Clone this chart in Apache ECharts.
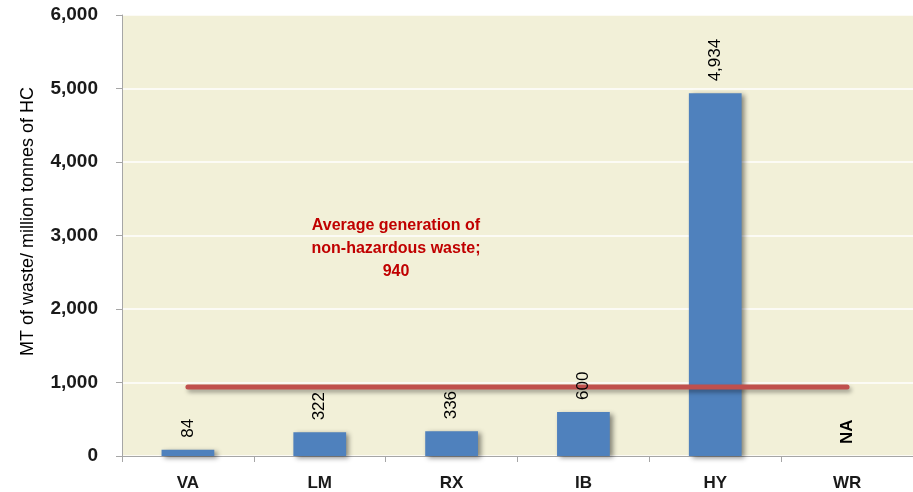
<!DOCTYPE html>
<html>
<head>
<meta charset="utf-8">
<script src="https://cdn.jsdelivr.net/npm/echarts@6/dist/echarts.min.js"></script>
<style>
  html, body { margin: 0; padding: 0; background: #ffffff; }
  #chart { width: 913px; height: 492px; }
</style>
</head>
<body>
<div id="chart"></div>
<script>
// Non-hazardous waste generation per site (MT of waste per million tonnes of HC)
const categories = ['VA', 'LM', 'RX', 'IB', 'HY', 'WR'];
const wasteValues = [84, 322, 336, 600, 4934, null]; // WR: not available
const averageValue = 940;
const yTicks = [0, 1000, 2000, 3000, 4000, 5000, 6000];

const averageLine = categories.map(() => averageValue);
const fmt = v => v.toLocaleString('en-US');

const chart = echarts.init(document.getElementById('chart'), null, { renderer: 'canvas' });

// Visible bars (missing values drawn as empty bars)
const barData = wasteValues.map(v => v === null ? 0 : v);
// Transparent twin bars that carry the value labels above the average line
const labelData = wasteValues.map(v => v === null
  ? { value: 0, label: { formatter: 'NA', fontWeight: 'bold' } }
  : v);

chart.setOption({
  animation: false,
  grid: { left: 122, right: -2, top: 15, bottom: 35, show: true, backgroundColor: '#F2F0D8', borderWidth: 0 },
  xAxis: {
    type: 'category',
    data: categories,
    axisLine: { lineStyle: { color: '#A6A6A6', width: 1 } },
    axisTick: { show: true, length: 6, lineStyle: { color: '#A6A6A6' } },
    axisLabel: { color: '#1a1a1a', fontFamily: 'Liberation Sans', fontWeight: 'bold', fontSize: 17, margin: 19 },
    splitLine: { show: false }
  },
  yAxis: {
    type: 'value',
    min: yTicks[0],
    max: yTicks[yTicks.length - 1],
    interval: 1000,
    name: 'MT of waste/ million tonnes of HC',
    nameLocation: 'middle',
    nameGap: 85,
    nameTextStyle: { color: '#000000', fontFamily: 'Liberation Sans', fontSize: 18, padding: [0, 0, 0, 28] },
    axisLine: { show: true, lineStyle: { color: '#A6A6A6', width: 1 } },
    axisTick: { show: true, length: 6, lineStyle: { color: '#A6A6A6' } },
    axisLabel: { color: '#1a1a1a', fontFamily: 'Liberation Sans', fontWeight: 'bold', fontSize: 19, margin: 24, formatter: v => fmt(v) },
    splitLine: { show: true, lineStyle: { color: '#FFFFFF', width: 1.5 } }
  },
  series: [
    {
      type: 'bar',
      data: barData,
      barWidth: '40%',
      itemStyle: {
        color: '#4F81BD',
        shadowColor: 'rgba(0,0,0,0.45)',
        shadowBlur: 5,
        shadowOffsetX: 3,
        shadowOffsetY: 2
      },
      z: 1
    },
    {
      type: 'line',
      data: averageLine,
      symbol: 'none',
      lineStyle: {
        color: '#C0504D',
        width: 5,
        cap: 'round',
        shadowColor: 'rgba(0,0,0,0.35)',
        shadowBlur: 4,
        shadowOffsetX: 2,
        shadowOffsetY: 3
      },
      z: 2
    },
    {
      type: 'bar',
      data: labelData,
      barWidth: '40%',
      barGap: '-100%',
      itemStyle: { color: 'rgba(0,0,0,0)' },
      label: {
        show: true,
        position: 'top',
        rotate: 90,
        align: 'left',
        verticalAlign: 'middle',
        distance: 12,
        color: '#000000',
        fontFamily: 'Liberation Sans',
        fontSize: 17,
        formatter: p => fmt(p.value)
      },
      silent: true,
      z: 3
    }
  ],
  graphic: [
    {
      type: 'text',
      x: 396,
      y: 214,
      style: {
        text: 'Average generation of\nnon-hazardous waste;\n' + averageValue,
        textAlign: 'center',
        textVerticalAlign: 'top',
        align: 'center',
        verticalAlign: 'top',
        fill: '#C00000',
        font: 'bold 16px "Liberation Sans"',
        lineHeight: 23
      }
    }
  ]
});
</script>
</body>
</html>
